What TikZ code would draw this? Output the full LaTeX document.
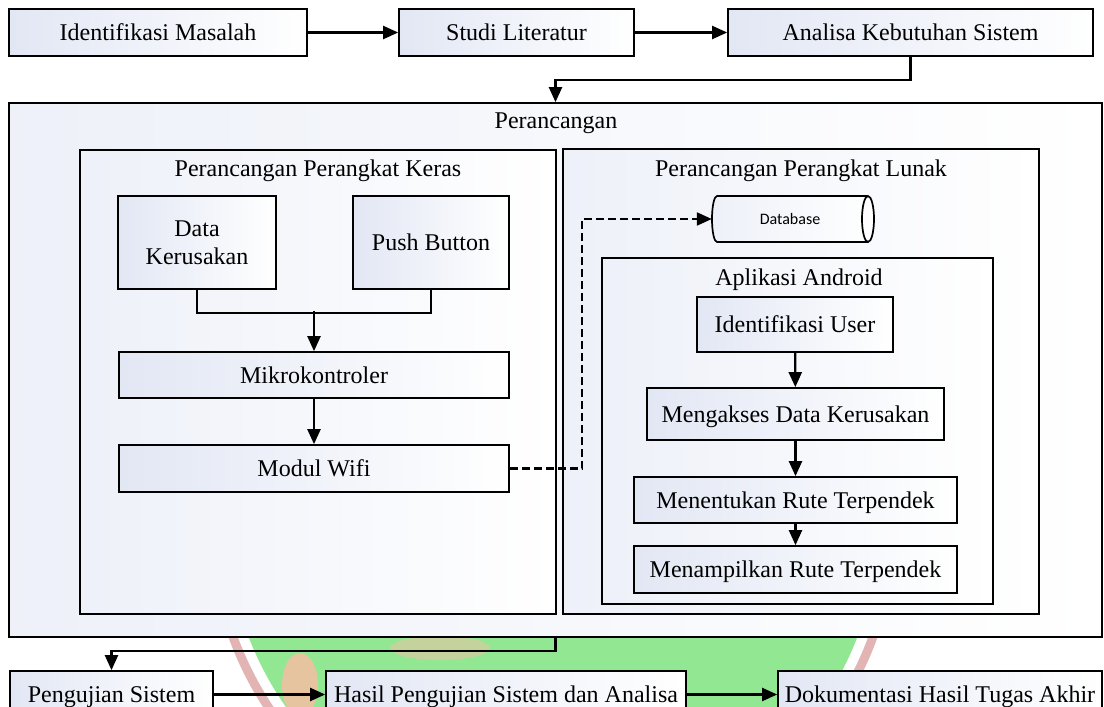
\documentclass[tikz,border=0pt]{standalone}
\usepackage{fontspec}
\setmainfont{Liberation Serif}
\newfontfamily\dbfont{Carlito}
\usetikzlibrary{arrows.meta}
\definecolor{bfill}{RGB}{226,231,244}
\definecolor{wmgreen}{RGB}{146,232,146}
\definecolor{wmpink}{RGB}{226,180,180}
\definecolor{wmbeige}{RGB}{230,196,160}
\newcommand{\mkbox}[6]{\node[box,minimum width={#4-#2},minimum height={#5-#3}] (#1) at ({(#2+#4)/2},{(#3+#5)/2}) {#6};}
\newcommand{\mkgrp}[5]{\node[grp,minimum width={#4-#2},minimum height={#5-#3}] (#1) at ({(#2+#4)/2},{(#3+#5)/2}) {};}
\begin{document}
\begin{tikzpicture}[x=1pt,y=-1pt,
  box/.style={draw=black,line width=1.7pt,left color=bfill,right color=white,inner sep=0pt,
    font=\fontsize{24}{28}\selectfont,text height=17pt,text depth=1pt},
  boxml/.style={draw=black,line width=1.7pt,left color=bfill,right color=white,inner sep=0pt,
    font=\fontsize{24}{28}\selectfont,align=center},
  grp/.style={draw=black,line width=1.7pt,left color=bfill!60,right color=white,inner sep=0pt},
  ttl/.style={font=\fontsize{24}{28}\selectfont,anchor=base,inner sep=0pt},
  arr/.style={line width=2.2pt,-{Triangle[length=15pt,width=13pt]}},
  ln/.style={line width=2.2pt},
  dsh/.style={line width=2.2pt,dash pattern=on 8pt off 4pt,-{Triangle[length=15pt,width=13pt]}}]
\clip (0,0) rectangle (1104,707);
\fill[white] (0,0) rectangle (1104,707);
% watermark (background logo)
\fill[wmpink] (553,520) circle (345pt);
\fill[white] (553,520) circle (336pt);
\fill[wmgreen] (553,520) circle (326pt);
\fill[wmbeige] (300,685) ellipse (18pt and 32pt);
\fill[wmbeige!60!wmgreen] (440,648) ellipse (50pt and 12pt);
% top row
\mkbox{idm}{9}{9}{307}{56}{Identifikasi Masalah}
\mkbox{stu}{399}{9}{634}{56}{Studi Literatur}
\mkbox{ana}{728}{9}{1093}{56}{Analisa Kebutuhan Sistem}
% groups
\mkgrp{per}{9}{103}{1102}{637}
\mkgrp{hw}{80}{150}{556}{614}
\mkgrp{sw}{563}{149}{1039}{614}
\node[ttl] (perT) at (556,128) {Perancangan};
\node[ttl] (hwT) at (318,176) {Perancangan Perangkat Keras};
\node[ttl] (swT) at (801,176) {Perancangan Perangkat Lunak};
% hardware
\node[boxml,minimum width=158pt,minimum height=93pt] (data) at (197,242.5) {Data\\Kerusakan};
\mkbox{push}{353}{196}{509}{289}{Push Button}
\mkbox{mik}{119}{352}{509}{398}{Mikrokontroler}
\mkbox{wifi}{119}{445}{509}{492}{Modul Wifi}
% database
\node[inner sep=0pt,minimum width=162pt,minimum height=46pt] (db) at (793,219) {};
\filldraw[line width=1.7pt,draw=black,left color=bfill!60,right color=white]
  (717,196) -- (868,196) arc[start angle=90,end angle=-90,x radius=6pt,y radius=23pt]
  -- (717,242) arc[start angle=270,end angle=90,x radius=5pt,y radius=23pt] -- cycle;
\draw[line width=1.7pt] (868,196) arc[start angle=90,end angle=270,x radius=6pt,y radius=23pt];
\node[font=\dbfont\fontsize{16}{18}\selectfont,inner sep=0pt] (dbT) at (790,219) {Database};
% android
\mkgrp{app}{602}{258}{993}{604}
\node[ttl] (appT) at (799,285) {Aplikasi Android};
\mkbox{idu}{697}{297}{893}{352}{Identifikasi User}
\mkbox{meng}{647}{388}{944}{440}{Mengakses Data Kerusakan}
\mkbox{ment}{634}{477}{957}{523}{Menentukan Rute Terpendek}
\mkbox{menam}{634}{546}{957}{593}{Menampilkan Rute Terpendek}
% bottom row
\mkbox{peng}{10}{671}{213}{718}{Pengujian Sistem}
\mkbox{hasil}{326}{671}{686}{718}{Hasil Pengujian Sistem dan Analisa}
\mkbox{dok}{778}{671}{1102}{718}{Dokumentasi Hasil Tugas Akhir}
% connectors
\draw[arr] (idm) -- (stu);
\draw[arr] (stu) -- (ana);
\draw[arr] (ana.south) -- ++(0,23) -| (per.north);
\draw[ln] (data.south) -- ++(0,23) -| (push.south);
\path (mik.north) ++(0,-40) coordinate (hj);
\draw[arr] (hj) -- (mik.north);
\draw[arr] (mik) -- (wifi);
\draw[dsh] (wifi.east) -- ++(72,0) |- (db.west);
\draw[arr] (idu) -- (meng);
\draw[arr] (meng) -- (ment);
\draw[arr] (ment) -- (menam);
\draw[arr] (per.south) -- ++(0,13) -| (peng.north);
\draw[arr] (peng) -- (hasil);
\draw[arr] (hasil) -- (dok);
\end{tikzpicture}
\end{document}
